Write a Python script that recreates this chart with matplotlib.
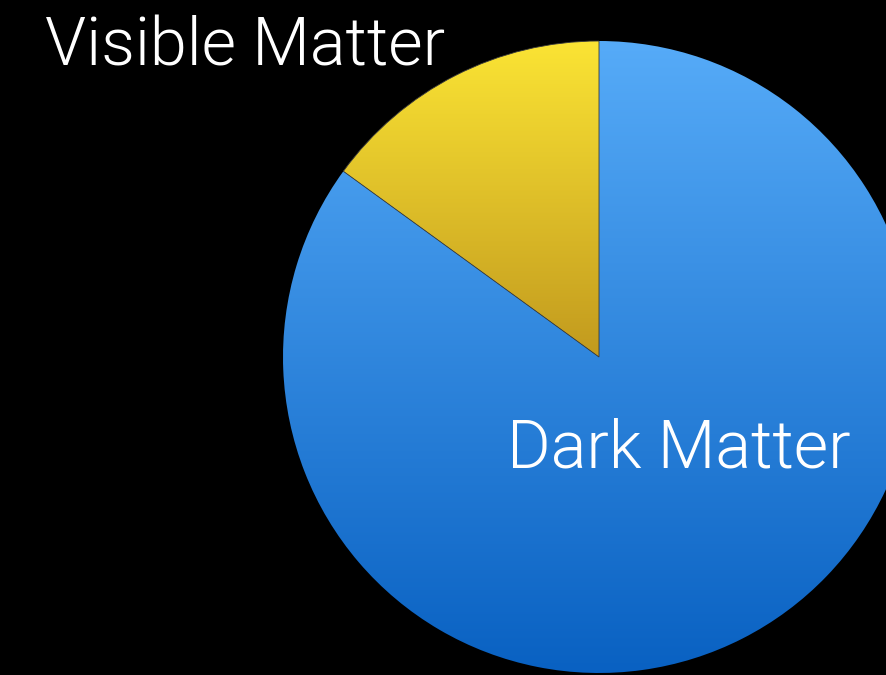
import numpy as np
import matplotlib
matplotlib.use("Agg")
import matplotlib.pyplot as plt
from matplotlib.colors import LinearSegmentedColormap

labels = ["Visible Matter", "Dark Matter"]
shares = [15, 85]
top_colors = ["#fbe434", "#56abf8"]
bottom_colors = ["#c29a1e", "#0961c2"]

W, H = 887, 675
fig = plt.figure(figsize=(W / 100, H / 100), dpi=100, facecolor="black")
ax = fig.add_axes([0, 0, 1, 1])
ax.set_facecolor("black")

cx, cy, r = 599, 318, 316
wedges, _ = ax.pie(shares, startangle=90, counterclock=True, center=(cx, cy),
                   radius=r, frame=True)
ax.set_xlim(0, W)
ax.set_ylim(0, H)
ax.set_aspect("equal")
ax.axis("off")

# vertical gradient fill per wedge
inv = ax.transData.inverted()
for i, (w, c0, c1) in enumerate(zip(wedges, top_colors, bottom_colors)):
    w.set_facecolor("none")
    if i == 0:
        w.set_edgecolor("#3a3a3a")
        w.set_linewidth(0.6)
        w.set_zorder(2)
    else:
        w.set_edgecolor("none")
    bb = w.get_window_extent()
    (x0, y0), (x1, y1) = inv.transform([[bb.x0, bb.y0], [bb.x1, bb.y1]])
    cmap = LinearSegmentedColormap.from_list("g", [c1, c0])
    grad = np.linspace(0, 1, 256).reshape(-1, 1)
    im = ax.imshow(grad, cmap=cmap, origin="lower", aspect="auto",
                   extent=[x0, x1, y0, y1], zorder=0.5)
    im.set_clip_path(w)

ax.set_xlim(0, W)
ax.set_ylim(0, H)

font = dict(family=["Roboto", "DejaVu Sans"], weight=300, color="white", fontsize=48)
ax.text(45, 609, labels[0], ha="left", va="baseline", **font)
ax.text(507, 207, labels[1], ha="left", va="baseline", **font)

fig.savefig("out.png", dpi=100, facecolor="black")
